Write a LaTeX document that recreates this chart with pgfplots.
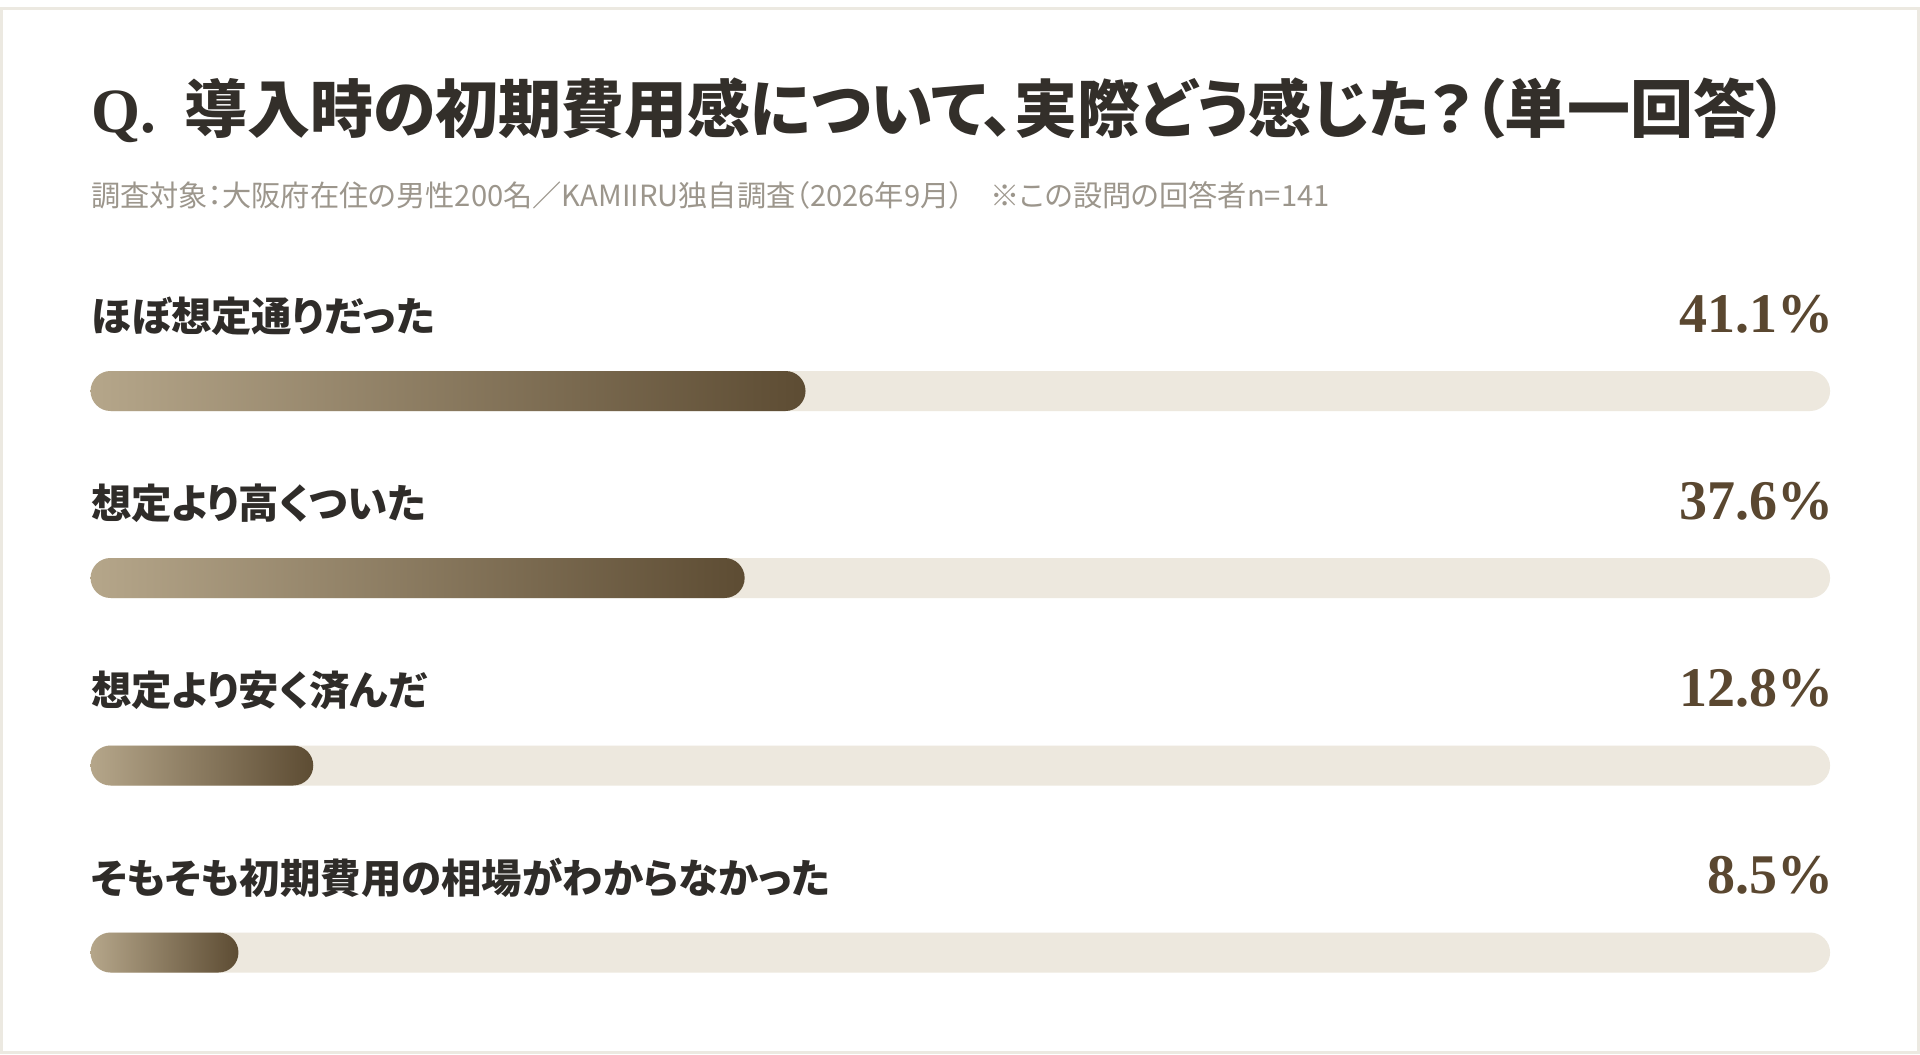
\documentclass[border=0pt]{standalone}
\usepackage{fontspec}
\usepackage{pgfplots}
\usepackage{pgfplotstable}
\pgfplotsset{compat=1.18}
\setmainfont{Noto Sans CJK JP}
\newfontfamily\jp[RawFeature=+palt]{Noto Sans CJK JP}
\newfontfamily\serifnum{Liberation Serif}

\definecolor{titlecol}{HTML}{332F2A}
\definecolor{labelcol}{HTML}{2F2C29}
\definecolor{valcol}{HTML}{5A4730}
\definecolor{subcol}{HTML}{9C968C}
\definecolor{trackcol}{HTML}{EDE8DE}
\definecolor{barA}{HTML}{B5A68A}
\definecolor{barB}{HTML}{957E5C}
\definecolor{barC}{HTML}{5D4C33}
\definecolor{framecol}{HTML}{ECE9E1}

% y = bar centre in pixels (1920x1054 canvas), v = share in percent
\pgfplotstableread[col sep=comma]{
y,v,label
391,41.1,ほぼ想定通りだった
578,37.6,想定より高くついた
765.5,12.8,想定より安く済んだ
952.5,8.5,そもそも初期費用の相場がわからなかった
}\answers

\begin{document}
\begin{tikzpicture}
\begin{axis}[
    scale only axis,
    width=960pt, height=527pt,
    xmin=-5.209, xmax=105.17,
    ymin=0, ymax=1054,
    y dir=reverse,
    hide axis,
    clip=false,
    axis background/.style={fill=white},
    bar width=20pt,
    /pgf/number format/assume math mode=true,
    ]
% track (100%)
\addplot[xbar, bar shift=0pt, draw=none, fill=trackcol, rounded corners=10pt,
    forget plot] table[x expr=100, y=y] {\answers};
% value bars, one plot each so every bar gets its own gradient
\pgfplotsinvokeforeach{0,...,3}{
\addplot[xbar, bar shift=0pt, draw=none, rounded corners=10pt,
    left color=barA, middle color=barB, right color=barC,
    restrict expr to domain={\coordindex}{#1:#1},
    forget plot] table[x=v, y=y] {\answers};
}
% value labels
\addplot[only marks, mark=none, point meta=explicit,
    nodes near coords={\pgfmathprintnumber{\pgfplotspointmeta}\%},
    every node near coord/.style={anchor=base east, inner sep=0pt,
        font=\serifnum\bfseries\fontsize{28}{30}\selectfont, text=valcol},
    forget plot] table[x expr=100.2, y expr=\thisrow{y}-59, meta=v] {\answers};
% category labels
\addplot[only marks, mark=none, point meta=explicit symbolic,
    nodes near coords,
    every node near coord/.style={anchor=west, inner sep=0pt,
        font=\jp\bfseries\fontsize{20.2}{22}\selectfont, text=labelcol},
    forget plot] table[x expr=0, y expr=\thisrow{y}-75, meta=label] {\answers};

\node[anchor=west, inner sep=0pt, text=titlecol, font=\jp\bfseries\fontsize{31.5}{34}\selectfont]
    at (axis cs:0,110) {{\serifnum Q.}\hspace{0.45em}導入時の初期費用感について、実際どう感じた？（単一回答）};
\node[anchor=west, inner sep=0pt, text=subcol, font=\jp\fontsize{14.6}{16}\selectfont]
    at (axis cs:0,195) {調査対象：大阪府在住の男性200名／KAMIIRU独自調査（2026年9月）\hspace{0.9em}※この設問の回答者n=141};

\draw[framecol, line width=1.5pt] (rel axis cs:0.0008,0.0014) rectangle (rel axis cs:0.9992,0.9916);
\coordinate (bl) at (rel axis cs:0,0);
\coordinate (tr) at (rel axis cs:1,1);
\end{axis}
\pgfresetboundingbox
\path (bl) rectangle (tr);
\end{tikzpicture}
\end{document}
